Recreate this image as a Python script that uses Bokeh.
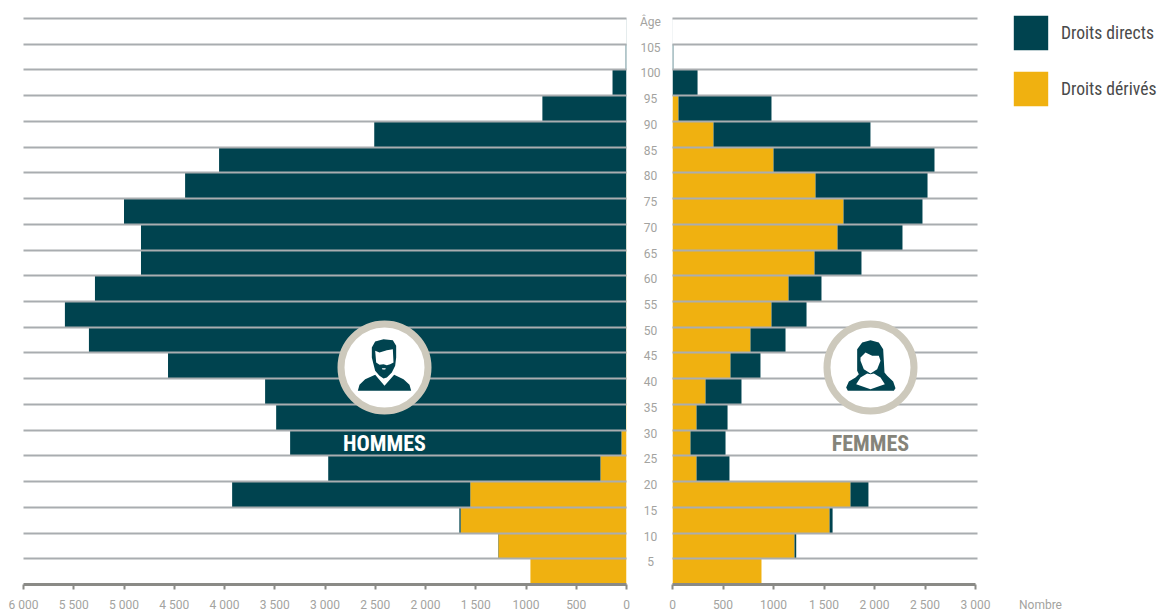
from bokeh.plotting import figure
from bokeh.layouts import row
from bokeh.models import (Range1d, LinearAxis, FixedTicker, Grid, Legend, LegendItem,
                          ColumnDataSource)
from bokeh.core.properties import value
from bokeh.embed import file_html
from bokeh.resources import INLINE

# Age bands, from the youngest upward (each band spans 5 years)
band_start = [0, 5, 10, 15, 20, 25, 30, 35, 40, 45, 50, 55, 60, 65, 70, 75, 80, 85, 90, 95, 100, 105]

men_derived = [956, 1275, 1650, 1554, 259, 50, 5, 3, 3, 3, 3, 3, 3, 2, 2, 2, 1, 1, 0, 0, 0, 0]
men_direct = [0, 3, 13, 2370, 2709, 3297, 3481, 3593, 4559, 5346, 5585, 5286, 4828, 4829, 4998, 4390, 4053, 2509, 837, 139, 8, 2]

women_derived = [881, 1208, 1555, 1762, 238, 178, 238, 327, 574, 772, 980, 1149, 1406, 1634, 1693, 1416, 1000, 406, 59, 0, 0, 0]
women_direct = [0, 17, 30, 178, 326, 347, 307, 356, 297, 347, 347, 326, 465, 643, 782, 1109, 1594, 1554, 921, 248, 8, 1]

age_labels = ["5", "10", "15", "20", "25", "30", "35", "40", "45", "50", "55", "60", "65", "70",
              "75", "80", "85", "90", "95", "100", "105", "Âge"]
age_label_pos = [5, 10, 15, 20, 25, 30, 35, 40, 45, 50, 55, 60, 65, 70, 75, 80, 85, 90, 95, 100, 105, 110]

grid_ages = [5, 10, 15, 20, 25, 30, 35, 40, 45, 50, 55, 60, 65, 70, 75, 80, 85, 90, 95, 100, 105, 110]

men_ticks = [0, 500, 1000, 1500, 2000, 2500, 3000, 3500, 4000, 4500, 5000, 5500, 6000]
men_tick_labels = ["0", "500", "1000", "1 500", "2 000", "2 500", "3 000", "3 500", "4 000", "4 500", "5 000", "5 500", "6 000"]
women_ticks = [0, 500, 1000, 1500, 2000, 2500, 3000]
women_tick_labels = ["0", "500", "1000", "1 500", "2 000", "2 500", "3 000"]

TEAL = "#00434f"
GOLD = "#f0b110"
GRID = "#a9adb0"
AXIS = "#8a8a86"
TICKTXT = "#a3a3a0"
RING = "#cdc9bc"
FONT = "Roboto"
NARROW = "'Roboto Condensed', 'Open Sans Condensed', 'Noto Sans Condensed', 'DejaVu Sans Condensed', 'Liberation Sans Narrow', Roboto"

H = 611
TOP = 8
BOTTOM_PX = 584
y_scale = 566 / 110
y_top = (BOTTOM_PX - TOP) / y_scale


def py2y(py):
    return (BOTTOM_PX - py) / y_scale


def make_fig(width, left, right, xr):
    p = figure(width=width, height=H, x_range=xr, y_range=Range1d(0, y_top),
               frame_height=BOTTOM_PX - TOP, frame_width=width - left - right,
               x_axis_location=None, y_axis_location=None, toolbar_location=None,
               output_backend="svg", min_border_left=left, min_border_right=right,
               min_border_top=TOP, min_border_bottom=H - BOTTOM_PX, outline_line_color=None)
    p.grid.visible = False
    return p


def style_axis(p, ticks, labels, bounds):
    ax = LinearAxis(ticker=FixedTicker(ticks=ticks),
                    major_label_overrides={t: l for t, l in zip(ticks, labels)})
    ax.bounds = bounds
    ax.axis_line_color = AXIS
    ax.axis_line_width = 3
    ax.major_tick_line_color = AXIS
    ax.major_tick_line_width = 2
    ax.major_tick_out = 5
    ax.major_tick_in = 0
    ax.minor_tick_line_color = None
    ax.major_label_standoff = 8
    ax.major_label_text_color = TICKTXT
    ax.major_label_text_font = FONT
    ax.major_label_text_font_size = "12px"
    p.add_layout(ax, "below")


def add_grid(p):
    g = Grid(dimension=1, ticker=FixedTicker(ticks=grid_ages), grid_line_color=GRID,
             grid_line_width=2, level="annotation")
    p.add_layout(g, "center")


def add_icon(p, shapes, cx, cy, x_of):
    ring_x, ring_y = x_of(cx), py2y(cy)
    p.scatter([ring_x], [ring_y], size=87, fill_color="white", line_color=RING, line_width=7, level="overlay")
    for color, pts in shapes:
        xs = [x_of(cx + a / 3) for a, b in pts]
        ys = [py2y(cy + b / 3) for a, b in pts]
        p.patch(xs, ys, fill_color=color, line_color=None, level="overlay")


# Icon outlines, relative to the centre of their ring, in thirds of a pixel
man_icon = [
    (TEAL, [(-80, 70), (-75, 52), (-58, 35), (-28, 22), (0, 55), (29, 22), (57, 35), (75, 52), (80, 70)]),
    (TEAL, [(-38, -60), (-28, -78), (-3, -85), (25, -82), (35, -65), (35, -30), (32, -5), (22, 15),
            (7, 30), (-3, 33), (-15, 25), (-28, 10), (-33, -10), (-38, -30)]),
    ("white", [(-28, -50), (-15, -45), (7, -52), (25, -55), (27, -15), (17, -10), (7, -7), (-3, -10),
               (-15, -8), (-25, -15)]),
    ("white", [(-8, 2), (4, 2), (2, 6), (-6, 6)]),
]
woman_icon = [
    (TEAL, [(0, -82), (25, -75), (38, -55), (40, -20), (42, 15), (50, 25), (68, 42), (75, 62), (70, 70),
            (-68, 70), (-73, 60), (-65, 42), (-45, 30), (-35, 20), (-40, 10), (-40, -55), (-25, -75)]),
    ("white", [(-43, 50), (-30, 30), (-10, 18), (0, 20), (10, 18), (30, 30), (43, 50), (15, 60), (0, 65), (-15, 60)]),
    ("white", [(-30, -30), (-15, -45), (5, -35), (25, -35), (30, -20), (20, 5), (0, 18), (-20, 5), (-30, -20)]),
]

mid = [a + 2.5 for a in band_start]

# ---------- men: figure spans x 0..636, frame 23..626 ----------
men_scale = 603 / 6000
men = make_fig(636, 23, 10, Range1d(6000, 0))
men_x = lambda px: (626 - px) / men_scale
men_total = [a + b for a, b in zip(men_derived, men_direct)]
src_m = ColumnDataSource(dict(y=mid, derived=men_derived, total=men_total))
men.hbar(y="y", height=5, left=0, right="derived", source=src_m, fill_color=GOLD, line_color=None)
men.hbar(y="y", height=5, left="derived", right="total", source=src_m, fill_color=TEAL, line_color=None)
style_axis(men, men_ticks, men_tick_labels, (0, 6000))
add_grid(men)
add_icon(men, man_icon, 384, 367, men_x)
men.text([men_x(384)], [py2y(443)], text=["HOMMES"], text_color="white", text_font=value(NARROW),
         text_font_style="bold", text_font_size="22px", text_align="center", text_baseline="middle", level="overlay")

# ---------- age labels: figure spans x 636..664 ----------
ages = make_fig(28, 0, 0, Range1d(0, 1))
age_shift = 3 / y_scale
ages.text([0.5] * len(age_labels), [a - age_shift for a in age_label_pos], text=age_labels,
          text_align="center", text_baseline="middle", text_color=TICKTXT,
          text_font=value(FONT), text_font_size="12px")

# ---------- women: figure spans x 664..992, frame 672..977 ----------
women_scale = 303 / 3000
women = make_fig(328, 8, 15, Range1d(0, 305 / women_scale))
women_x = lambda px: (px - 672) / women_scale
women_total = [a + b for a, b in zip(women_derived, women_direct)]
src_w = ColumnDataSource(dict(y=mid, derived=women_derived, total=women_total))
women.hbar(y="y", height=5, left=0, right="derived", source=src_w, fill_color=GOLD, line_color=None)
women.hbar(y="y", height=5, left="derived", right="total", source=src_w, fill_color=TEAL, line_color=None)
style_axis(women, women_ticks, women_tick_labels, (0, 3000))
add_grid(women)
add_icon(women, woman_icon, 870, 367, women_x)
women.text([women_x(870)], [py2y(443)], text=["FEMMES"], text_color="#85847a", text_font=value(NARROW),
           text_font_style="bold", text_font_size="22px", text_align="center", text_baseline="middle", level="overlay")

# ---------- legend and axis title: figure spans x 992..1159, frame from 1006 ----------
# The bars here start at 0, the right edge of this range, so only their legend swatches show.
side = make_fig(167, 14, 0, Range1d(-153, 0))
r_teal = side.hbar(y="y", height=5, left=0, right="total", source=src_w, fill_color=TEAL, line_color=None)
r_gold = side.hbar(y="y", height=5, left=0, right="derived", source=src_w, fill_color=GOLD, line_color=None)
title_axis = LinearAxis(ticker=FixedTicker(ticks=[1040 - 1159]), major_label_overrides={1040 - 1159: "Nombre"},
                        axis_line_color=None, major_tick_line_color=None, minor_tick_line_color=None,
                        major_tick_out=0, major_tick_in=0, major_label_standoff=13,
                        major_label_text_color=TICKTXT, major_label_text_font=FONT,
                        major_label_text_font_size="12px")
side.add_layout(title_axis, "below")
legend = Legend(items=[LegendItem(label="Droits directs", renderers=[r_teal]),
                       LegendItem(label="Droits dérivés", renderers=[r_gold])],
                location="top_left", orientation="vertical", background_fill_alpha=0, border_line_color=None,
                glyph_width=43, glyph_height=43, spacing=13, padding=0, margin=3, label_standoff=9,
                label_text_font=NARROW, label_text_font_size="17.6px", label_text_color="#4a4a4a")
side.add_layout(legend, "center")

page = row(men, ages, women, side)
open("out.html", "w").write(file_html(page, INLINE))
